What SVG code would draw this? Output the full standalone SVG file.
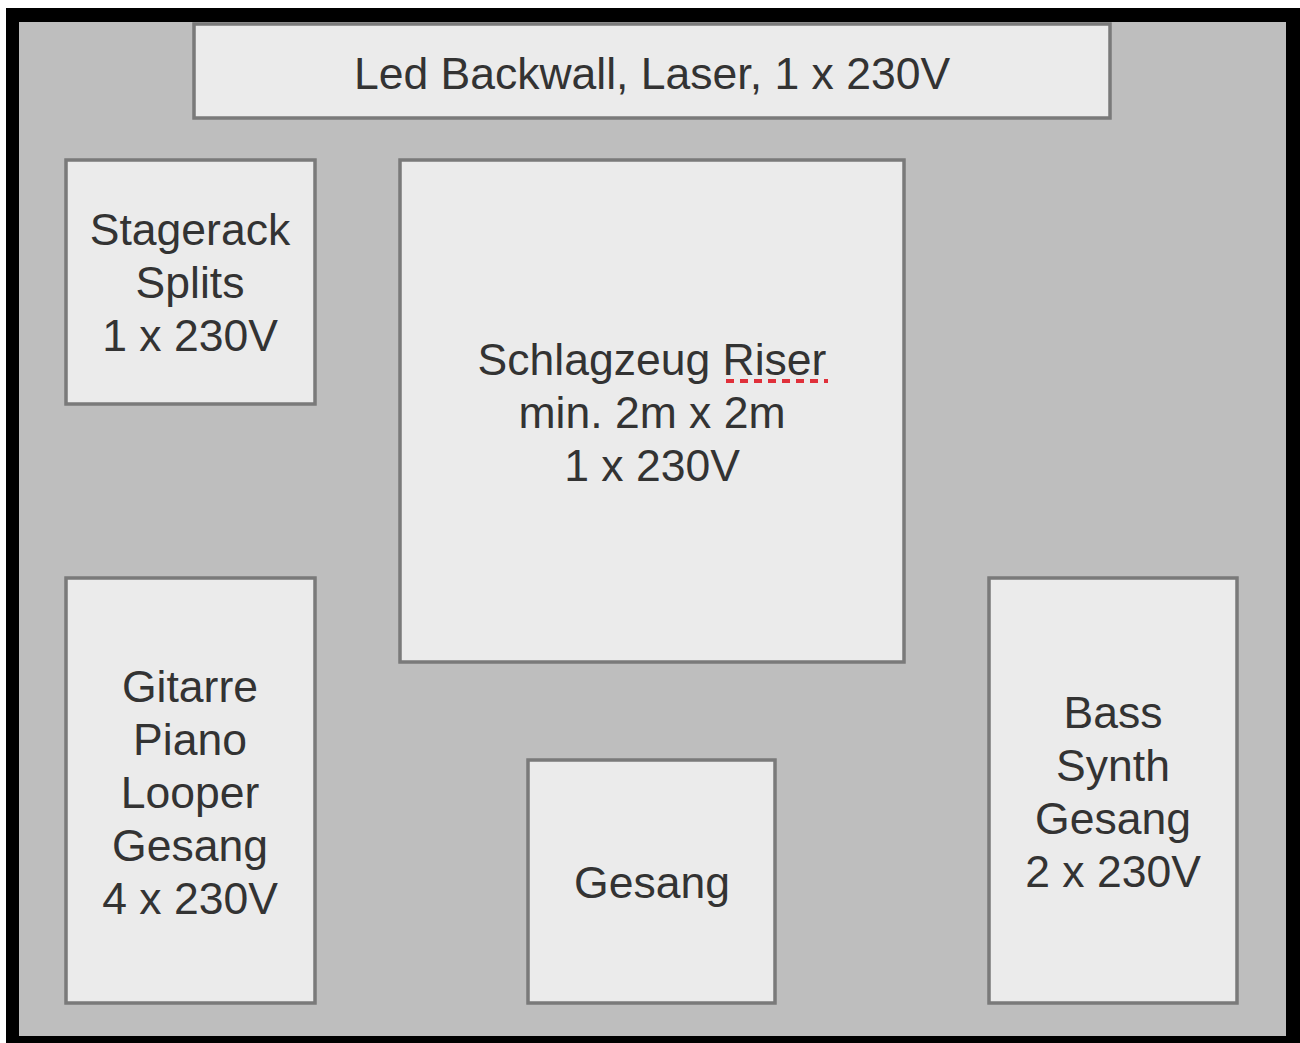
<svg xmlns="http://www.w3.org/2000/svg" width="1300" height="1043" viewBox="0 0 1300 1043">
<style>
.box{fill:#ebebeb;stroke:#7a7a7a;stroke-width:3.5}
.t{font-family:"Liberation Sans",Arial,Helvetica,sans-serif;font-size:44.5px;fill:#333;text-anchor:middle}
</style>
<rect x="0" y="0" width="1300" height="1043" fill="#ffffff"/>
<rect x="6" y="8" width="1294" height="1035" fill="#000000"/>
<rect x="19" y="22" width="1267" height="1014" fill="#bebebe"/>
<g id="backwall">
<rect class="box" x="194" y="24" width="916" height="94"/>
<text class="t" x="652" y="89">Led Backwall, Laser, 1 x 230V</text>
</g>
<g id="stagerack">
<rect class="box" x="66" y="160" width="249" height="244"/>
<text class="t" x="190" y="245">Stagerack</text>
<text class="t" x="190" y="298">Splits</text>
<text class="t" x="190" y="351">1 x 230V</text>
</g>
<g id="riser">
<rect class="box" x="400" y="160" width="504" height="502"/>
<text class="t" x="652" y="375">Schlagzeug Riser</text>
<text class="t" x="652" y="428">min. 2m x 2m</text>
<text class="t" x="652" y="481">1 x 230V</text>
<line x1="726" y1="381" x2="828" y2="381" stroke="#e0303a" stroke-width="4" stroke-dasharray="8 6"/>
</g>
<g id="gitarre">
<rect class="box" x="66" y="578" width="249" height="425"/>
<text class="t" x="190" y="702">Gitarre</text>
<text class="t" x="190" y="755">Piano</text>
<text class="t" x="190" y="808">Looper</text>
<text class="t" x="190" y="861">Gesang</text>
<text class="t" x="190" y="914">4 x 230V</text>
</g>
<g id="gesang">
<rect class="box" x="528" y="760" width="247" height="243"/>
<text class="t" x="652" y="898">Gesang</text>
</g>
<g id="bass">
<rect class="box" x="989" y="578" width="248" height="425"/>
<text class="t" x="1113" y="728">Bass</text>
<text class="t" x="1113" y="781">Synth</text>
<text class="t" x="1113" y="834">Gesang</text>
<text class="t" x="1113" y="887">2 x 230V</text>
</g>
<g id="connectors"></g>
</svg>
